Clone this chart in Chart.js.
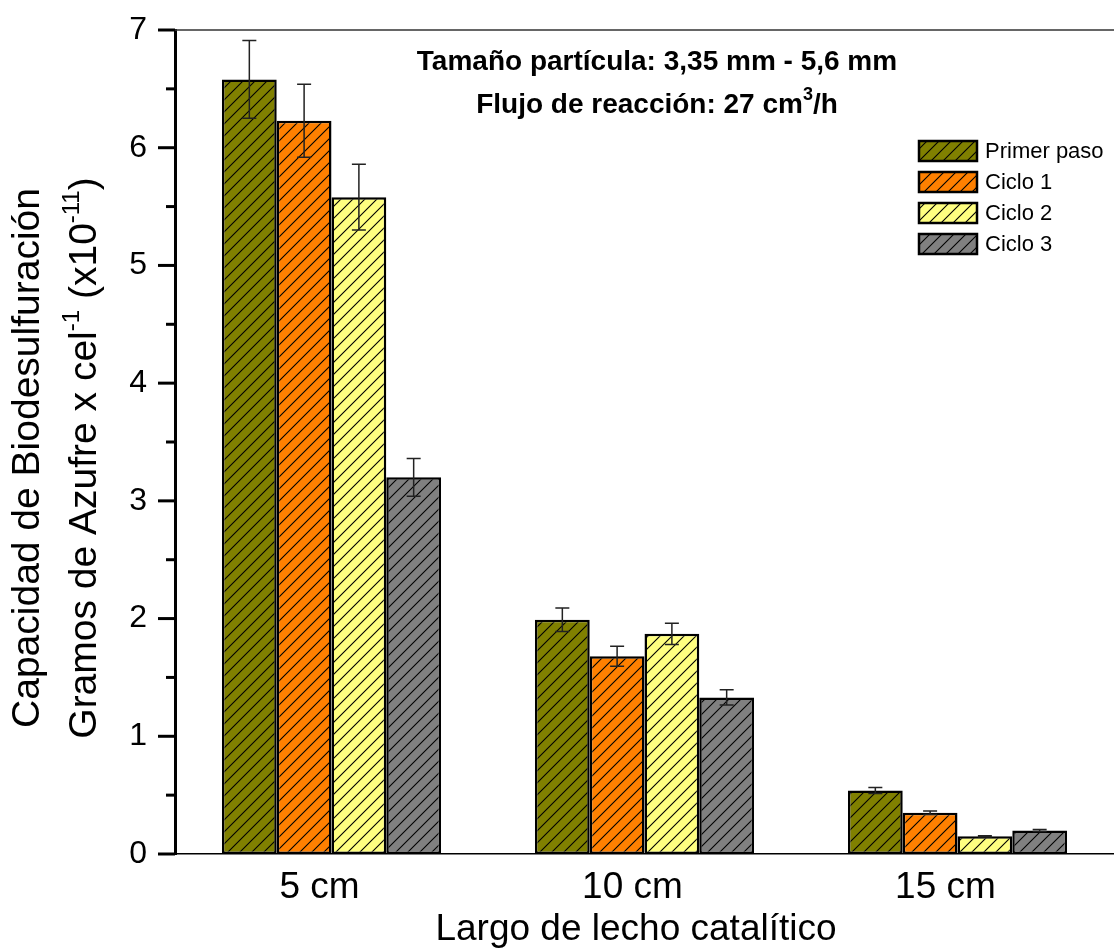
<!DOCTYPE html>
<html>
<head>
<meta charset="utf-8">
<script src="https://cdn.jsdelivr.net/npm/chart.js@4.4.1/dist/chart.umd.min.js"></script>
<style>
  html, body { margin: 0; padding: 0; background: #fff; }
  #wrap { width: 1114px; height: 948px; }
</style>
</head>
<body>
<div id="wrap"><canvas id="chart" width="1114" height="948"></canvas></div>
<script>
const FONT = "'Liberation Sans', Arial, sans-serif";

// data
const categories = ['5 cm', '10 cm', '15 cm'];
const seriesNames = ['Primer paso', 'Ciclo 1', 'Ciclo 2', 'Ciclo 3'];
const primerPaso = [6.58, 1.99, 0.54];
const ciclo1 = [6.23, 1.68, 0.35];
const ciclo2 = [5.58, 1.87, 0.15];
const ciclo3 = [3.20, 1.33, 0.20];
const errPrimerPaso = [0.33, 0.10, 0.025];
const errCiclo1 = [0.31, 0.085, 0.015];
const errCiclo2 = [0.28, 0.09, 0.006];
const errCiclo3 = [0.16, 0.065, 0.008];
const yTicks = [0, 1, 2, 3, 4, 5, 6, 7];

const colors = ['#808000', '#ff8000', '#ffff80', '#808080'];

function hatch(color) {
  const c = document.createElement('canvas');
  c.width = 12; c.height = 12;
  const g = c.getContext('2d');
  g.fillStyle = color;
  g.fillRect(0, 0, 12, 12);
  g.strokeStyle = '#000';
  g.lineWidth = 1.1;
  g.beginPath();
  g.moveTo(-1, 13); g.lineTo(13, -1);
  g.moveTo(-7, 7); g.lineTo(7, -7);
  g.moveTo(5, 19); g.lineTo(19, 5);
  g.stroke();
  return g.createPattern(c, 'repeat');
}
const patterns = colors.map(hatch);

const values = [primerPaso, ciclo1, ciclo2, ciclo3];
const errors = [errPrimerPaso, errCiclo1, errCiclo2, errCiclo3];

// error bars, tick marks, titles, legend
const extras = {
  id: 'extras',
  afterDatasetsDraw(chart) {
    const ctx = chart.ctx;
    const y = chart.scales.y;
    ctx.save();
    ctx.strokeStyle = '#222';
    ctx.lineWidth = 1.5;
    values.forEach((vals, i) => {
      const meta = chart.getDatasetMeta(i);
      meta.data.forEach((bar, j) => {
        const top = y.getPixelForValue(vals[j] + errors[i][j]);
        const bot = y.getPixelForValue(vals[j] - errors[i][j]);
        ctx.beginPath();
        ctx.moveTo(bar.x, top); ctx.lineTo(bar.x, bot);
        ctx.moveTo(bar.x - 7, top); ctx.lineTo(bar.x + 7, top);
        ctx.moveTo(bar.x - 7, bot); ctx.lineTo(bar.x + 7, bot);
        ctx.stroke();
      });
    });
    ctx.restore();
  },
  afterDraw(chart) {
    const ctx = chart.ctx;
    const a = chart.chartArea;
    const y = chart.scales.y;
    ctx.save();

    // top frame line
    ctx.strokeStyle = '#333';
    ctx.lineWidth = 1.5;
    ctx.beginPath();
    ctx.moveTo(a.left, a.top); ctx.lineTo(a.right, a.top);
    ctx.stroke();

    // y ticks, major and minor
    ctx.strokeStyle = '#000';
    ctx.lineWidth = 3;
    yTicks.forEach((t, k) => {
      const py = y.getPixelForValue(t);
      ctx.beginPath();
      ctx.moveTo(a.left - 17, py); ctx.lineTo(a.left, py);
      ctx.stroke();
      if (k < yTicks.length - 1) {
        const pm = y.getPixelForValue((t + yTicks[k + 1]) / 2);
        ctx.beginPath();
        ctx.moveTo(a.left - 9, pm); ctx.lineTo(a.left, pm);
        ctx.stroke();
      }
    });

    ctx.fillStyle = '#000';

    // x title
    ctx.font = '37px ' + FONT;
    ctx.textAlign = 'center';
    ctx.textBaseline = 'alphabetic';
    ctx.fillText('Largo de lecho catalítico', 636, 940);

    // y title (two lines, rotated)
    const cy = 458;
    ctx.save();
    ctx.translate(39, cy);
    ctx.rotate(-Math.PI / 2);
    ctx.font = '39px ' + FONT;
    ctx.fillText('Capacidad de Biodesulfuración', 0, 0);
    ctx.restore();

    ctx.save();
    ctx.translate(96, cy);
    ctx.rotate(-Math.PI / 2);
    const parts = [
      ['Gramos de Azufre x cel', false],
      ['-1', true],
      [' (x10', false],
      ['-11', true],
      [')', false]
    ];
    const big = '39px ' + FONT, small = '24px ' + FONT;
    let total = 0;
    parts.forEach(p => { ctx.font = p[1] ? small : big; total += ctx.measureText(p[0]).width; });
    let px = -total / 2;
    ctx.textAlign = 'left';
    parts.forEach(p => {
      ctx.font = p[1] ? small : big;
      ctx.fillText(p[0], px, p[1] ? -17 : 0);
      px += ctx.measureText(p[0]).width;
    });
    ctx.restore();

    // plot annotation
    ctx.font = 'bold 28px ' + FONT;
    ctx.textAlign = 'center';
    ctx.fillText('Tamaño partícula: 3,35 mm - 5,6 mm', 657, 70);
    const l2a = 'Flujo de reacción: 27 cm', l2b = '3', l2c = '/h';
    const wA = ctx.measureText(l2a).width;
    const wC = ctx.measureText(l2c).width;
    ctx.font = 'bold 18px ' + FONT;
    const wB = ctx.measureText(l2b).width;
    let sx = 657 - (wA + wB + wC) / 2;
    ctx.textAlign = 'left';
    ctx.font = 'bold 28px ' + FONT;
    ctx.fillText(l2a, sx, 113);
    ctx.font = 'bold 18px ' + FONT;
    ctx.fillText(l2b, sx + wA, 100);
    ctx.font = 'bold 28px ' + FONT;
    ctx.fillText(l2c, sx + wA + wB, 113);

    // legend
    ctx.font = '22px ' + FONT;
    ctx.textBaseline = 'middle';
    seriesNames.forEach((name, i) => {
      const by = 141 + i * 31;
      ctx.fillStyle = patterns[i];
      ctx.fillRect(919, by, 58, 20);
      ctx.strokeStyle = '#000';
      ctx.lineWidth = 2.5;
      ctx.strokeRect(919, by, 58, 20);
      ctx.fillStyle = '#000';
      ctx.fillText(name, 985, by + 11);
    });

    ctx.restore();
  }
};

new Chart(document.getElementById('chart').getContext('2d'), {
  type: 'bar',
  data: {
    labels: categories,
    datasets: seriesNames.map((name, i) => ({
      label: name,
      data: values[i],
      backgroundColor: patterns[i],
      borderColor: '#000',
      borderWidth: 2.5,
      borderSkipped: false,
      categoryPercentage: 0.7,
      barPercentage: 1.0
    }))
  },
  options: {
    responsive: false,
    animation: false,
    layout: { padding: { top: 30, right: 0, left: 0, bottom: 0 } },
    plugins: {
      legend: { display: false },
      tooltip: { enabled: false },
      title: { display: false }
    },
    scales: {
      x: {
        grid: { display: false, drawTicks: false },
        border: { display: true, color: '#000', width: 1.5 },
        ticks: { color: '#000', font: { family: FONT, size: 37 }, padding: 12, labelOffset: -12 },
        afterFit(s) { s.height = 94; s.paddingLeft = 0; s.paddingRight = 0; }
      },
      y: {
        min: 0,
        max: 7,
        grid: { display: false, drawTicks: false },
        border: { display: true, color: '#000', width: 3 },
        ticks: { stepSize: 1, color: '#000', font: { family: FONT, size: 32 }, padding: 28 },
        afterFit(s) { s.width = 175; s.paddingTop = 0; s.paddingBottom = 0; }
      }
    }
  },
  plugins: [extras]
});
</script>
</body>
</html>
